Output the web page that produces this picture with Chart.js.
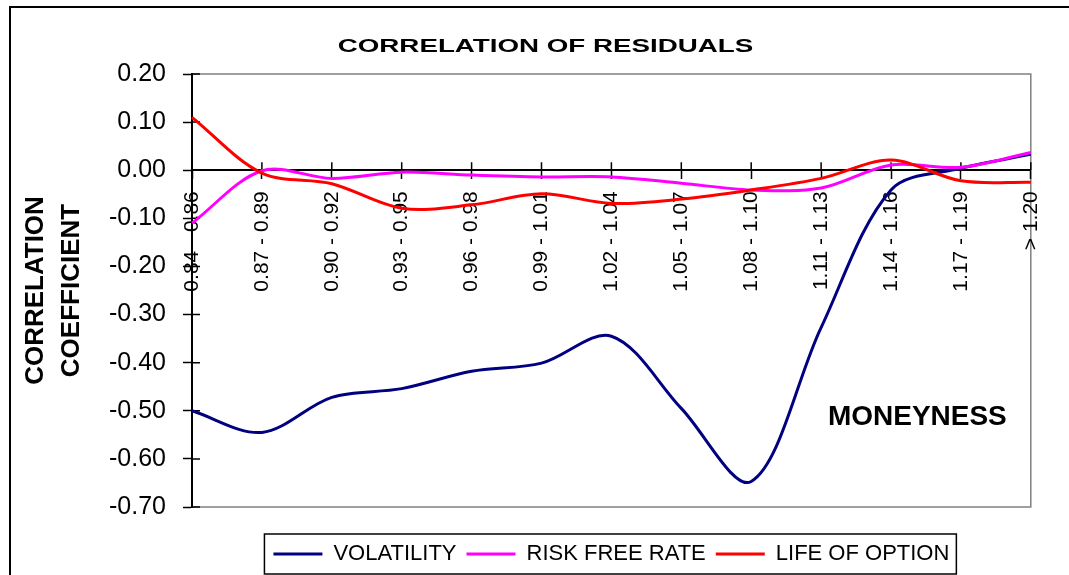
<!DOCTYPE html>
<html>
<head>
<meta charset="utf-8">
<title>Correlation of residuals</title>
<script src="https://cdn.jsdelivr.net/npm/chart.js@4.4.1/dist/chart.umd.min.js"></script>
<style>
  html, body { margin: 0; padding: 0; background: #fff; }
  canvas { display: block; }
</style>
</head>
<body>
<canvas id="residChart" width="1069" height="575"></canvas>
<script>
// ============================
// Data
// ============================
const moneyness = ['0.84 - 0.86', '0.87 - 0.89', '0.90 - 0.92', '0.93 - 0.95', '0.96 - 0.98',
                   '0.99 - 1.01', '1.02 - 1.04', '1.05 - 1.07', '1.08 - 1.10', '1.11 - 1.13',
                   '1.14 - 1.16', '1.17 - 1.19', '> 1.20'];
const volatility   = [-0.500, -0.545, -0.472, -0.454, -0.418, -0.401, -0.345, -0.495, -0.647, -0.327, -0.041, 0.004, 0.033];
const riskFreeRate = [-0.110, -0.001, -0.017, -0.004, -0.010, -0.014, -0.014, -0.027, -0.041, -0.037, 0.011, 0.006, 0.037];
const lifeOfOption = [0.110, -0.006, -0.028, -0.079, -0.072, -0.049, -0.069, -0.060, -0.041, -0.017, 0.021, -0.022, -0.025];
const seriesNames  = ['VOLATILITY', 'RISK FREE RATE', 'LIFE OF OPTION'];
const yMin = -0.7, yMax = 0.2, yStep = 0.1;

const chartTitle = 'CORRELATION OF RESIDUALS';
const yTitle = ['CORRELATION', 'COEFFICIENT'];
const xTitle = 'MONEYNESS';

const FONT = "'Liberation Sans', Arial, sans-serif";

// ============================
// Excel-like frame, title, ticks, legend box
// ============================
const excelLook = {
    id: 'excelLook',
    beforeDraw(chart) {
        const { ctx, chartArea: a } = chart;
        ctx.save();
        ctx.fillStyle = '#fff';
        ctx.fillRect(0, 0, chart.width, chart.height);

        // outer chart border (runs off the right and bottom edge)
        ctx.strokeStyle = '#000';
        ctx.lineWidth = 2;
        ctx.strokeRect(10, 7, chart.width + 20, chart.height + 20);

        // plot area border
        ctx.strokeStyle = '#808080';
        ctx.lineWidth = 1.5;
        ctx.strokeRect(a.left, a.top, a.right - a.left, a.bottom - a.top);

        // title, stretched wide like the original
        ctx.fillStyle = '#000';
        ctx.font = 'bold 19px ' + FONT;
        ctx.textAlign = 'center';
        ctx.textBaseline = 'alphabetic';
        ctx.translate((chart.width + 22) / 2, 52);
        ctx.scale(1.46, 1);
        ctx.fillText(chartTitle, 0, 0);
        ctx.restore();
    },
    beforeDatasetsDraw(chart) {
        const { ctx, chartArea: a, scales } = chart;
        const xs = scales.x, ys = scales.y;
        const y0 = ys.getPixelForValue(0);
        ctx.save();
        ctx.strokeStyle = '#000';
        ctx.lineWidth = 1.5;
        ctx.beginPath();
        // inner half of the cross tick marks
        ys.ticks.forEach((t, i) => {
            const y = ys.getPixelForTick(i);
            ctx.moveTo(a.left, y);
            ctx.lineTo(a.left + 8, y);
        });
        xs.ticks.forEach((t, i) => {
            const x = xs.getPixelForTick(i);
            ctx.moveTo(x, y0);
            ctx.lineTo(x, y0 - 8);
        });
        ctx.stroke();

        // axis title placed inside the plot
        ctx.fillStyle = '#000';
        ctx.font = 'bold 28px ' + FONT;
        ctx.textAlign = 'right';
        ctx.textBaseline = 'alphabetic';
        ctx.fillText(xTitle, a.right - 24, ys.getPixelForValue(-0.53));
        ctx.restore();
    },
    afterDraw(chart) {
        const boxes = chart.legend && chart.legend.legendHitBoxes;
        if (!boxes || !boxes.length) return;
        const left = Math.min(...boxes.map(b => b.left)) - 9;
        const right = Math.max(...boxes.map(b => b.left + b.width)) + 7;
        const top = Math.min(...boxes.map(b => b.top)) - 9;
        const bottom = Math.max(...boxes.map(b => b.top + b.height)) + 9;
        const { ctx } = chart;
        ctx.save();
        ctx.strokeStyle = '#000';
        ctx.lineWidth = 1.5;
        ctx.strokeRect(left, top, right - left, bottom - top);
        ctx.restore();
    }
};

// ============================
// Chart
// ============================
const colors = ['#000080', '#FF00FF', '#FF0000'];
const values = [volatility, riskFreeRate, lifeOfOption];

const datasets = values.map((v, i) => ({
    label: seriesNames[i],
    data: v,
    borderColor: colors[i],
    backgroundColor: colors[i],
    borderWidth: 3,
    pointRadius: 0,
    tension: 0.33,
    fill: false,
    order: values.length - i   // later series drawn on top, as in Excel
}));

new Chart(document.getElementById('residChart'), {
    type: 'line',
    data: { labels: moneyness, datasets: datasets },
    plugins: [excelLook],
    options: {
        responsive: false,
        animation: false,
        layout: { padding: { left: 12, right: 29, top: 74, bottom: 0 } },
        plugins: {
            title: { display: false },
            tooltip: { enabled: false },
            legend: {
                position: 'bottom',
                fullSize: false,
                title: { display: true, text: '', padding: 0, font: { size: 1, lineHeight: '26px' } },
                labels: {
                    font: { family: FONT, size: 22 },
                    color: '#000',
                    boxWidth: 49,
                    boxHeight: 0,
                    padding: 10,
                    sort: (a, b) => a.datasetIndex - b.datasetIndex
                }
            }
        },
        scales: {
            x: {
                type: 'category',
                position: { y: 0 },
                offset: false,
                grid: { drawOnChartArea: false, color: '#000', tickColor: '#000', tickLength: 8, tickWidth: 1.5, offset: false },
                border: { display: true, color: '#000', width: 2 },
                ticks: {
                    autoSkip: false,
                    maxRotation: 90,
                    minRotation: 90,
                    padding: 13,
                    color: '#000',
                    font: { family: FONT, size: 21 }
                }
            },
            y: {
                min: yMin,
                max: yMax,
                afterFit: s => { s.width = 180; },
                grid: { drawOnChartArea: false, color: '#000', tickColor: '#000', tickLength: 9, tickWidth: 1.5 },
                border: { display: true, color: '#000', width: 2 },
                ticks: {
                    stepSize: yStep,
                    padding: 17,
                    color: '#000',
                    font: { family: FONT, size: 25 },
                    callback: v => Math.abs(v) < 1e-9 ? '0.00' : v.toFixed(2)
                },
                title: {
                    display: true,
                    text: yTitle,
                    color: '#000',
                    font: { family: FONT, size: 26, weight: 'bold', lineHeight: 1.41 },
                    padding: { top: 5, bottom: 0 }
                }
            }
        }
    }
});
</script>
</body>
</html>
